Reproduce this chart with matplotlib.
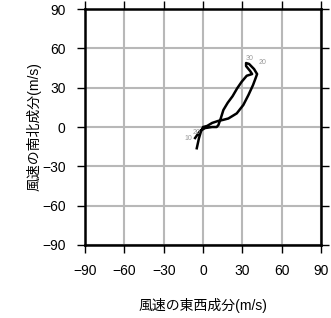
import matplotlib
matplotlib.use("Agg")
import matplotlib.pyplot as plt

plt.rcParams['font.family'] = ['Liberation Sans', 'Noto Sans CJK JP', 'DejaVu Sans']

# hodograph (east-west u, north-south v) in m/s
u = [-4.8, -3.1, -1.5, 0.0, 3.1, 6.9, 11.4, 15.5, 19.3, 25.7, 30.7, 34.6, 38.1,
     40.2, 41.2, 38.9, 35.1, 32.8, 32.8, 35.9, 37.4, 33.3, 29.5, 26.0, 22.5,
     18.8, 15.5, 13.5, 11.7, 10.4, 6.9, 1.5, -2.3, -6.1]
v = [-16.2, -8.4, -3.1, 0.0, 0.8, 3.1, 4.6, 5.5, 6.5, 10.4, 16.8, 24.4, 32.0,
     37.6, 40.4, 44.2, 48.1, 48.8, 46.5, 42.7, 40.4, 39.1, 34.6, 29.5, 23.5,
     18.5, 13.0, 6.6, 1.5, 0.0, 0.0, -0.8, -3.1, -8.4]

lab_text = ['10', '20', '30', '20']
lab_u = [-11.0, -5.0, 35.5, 45.0]
lab_v = [-8.5, -4.5, 52.0, 49.0]

ticks = [-90, -60, -30, 0, 30, 60, 90]
tick_text = ['\u221290', '\u221260', '\u221230', '0', '30', '60', '90']

fig = plt.figure(figsize=(3.31, 3.18), dpi=100)
ax = fig.add_axes([0.257, 0.2296, 0.713, 0.742])

ax.plot(u, v, color='black', linewidth=1.8)
for t, x, y in zip(lab_text, lab_u, lab_v):
    ax.text(x, y, t, fontsize=5, color='#999999', ha='center', va='center')

ax.set_xlim(-90, 90)
ax.set_ylim(-90, 90)
ax.set_xticks(ticks)
ax.set_yticks(ticks)
ax.set_xticklabels(tick_text)
ax.set_yticklabels(tick_text)
ax.grid(True, color='#b8b8b8', linewidth=1.5)
ax.set_axisbelow(True)
ax.tick_params(direction='out', length=6, width=1, top=True, right=True,
               labelsize=10, pad=8)
for s in ax.spines.values():
    s.set_linewidth(1.8)

ax.set_xlabel('風速の東西成分(m/s)', fontsize=10, labelpad=14)
ax.set_ylabel('風速の南北成分(m/s)', fontsize=10, labelpad=0)

fig.savefig('out.png', dpi=100)
